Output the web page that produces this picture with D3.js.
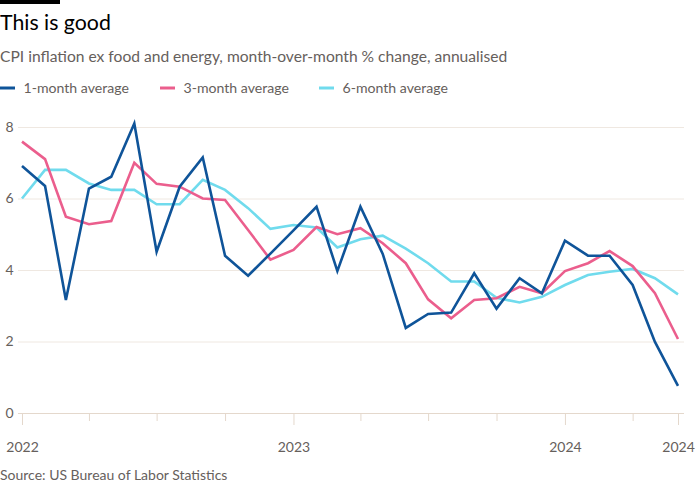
<!DOCTYPE html>
<html>
<head>
<meta charset="utf-8">
<script src="https://cdn.jsdelivr.net/npm/d3@7"></script>
<style>
  html, body { margin: 0; padding: 0; background: #ffffff; }
  svg { display: block; font-family: "Lato", "Noto Sans", sans-serif; }
</style>
</head>
<body>
<svg id="chart" width="700" height="500"></svg>
<script>
// ---- Data ----
const months = d3.range(30).map(i => new Date(2022, i, 1)); // Jan 2022 .. Jun 2024
const oneMonth = [6.91, 6.35, 3.16, 6.28, 6.61, 8.10, 4.51, 6.33, 7.15, 4.40, 3.84, 4.46, 5.11, 5.77, 3.97, 5.77, 4.45, 2.38, 2.77, 2.81, 3.91, 2.92, 3.77, 3.35, 4.82, 4.40, 4.40, 3.58, 1.99, 0.76];
const threeMonth = [7.59, 7.10, 5.49, 5.28, 5.37, 7.00, 6.41, 6.33, 6.00, 5.96, 5.12, 4.29, 4.56, 5.20, 5.00, 5.17, 4.75, 4.19, 3.18, 2.65, 3.16, 3.21, 3.53, 3.35, 3.97, 4.19, 4.53, 4.11, 3.35, 2.07];
const sixMonth = [6.00, 6.80, 6.80, 6.42, 6.24, 6.24, 5.84, 5.84, 6.52, 6.24, 5.73, 5.15, 5.26, 5.19, 4.63, 4.86, 4.96, 4.60, 4.19, 3.68, 3.68, 3.22, 3.09, 3.25, 3.58, 3.86, 3.95, 4.03, 3.77, 3.32];
const seriesNames = ["1-month average", "3-month average", "6-month average"];
const seriesColors = ["#0f5499", "#eb5e8d", "#70dbed"];
const yTicks = [0, 2, 4, 6, 8];
const xTickDates = [
  new Date(2022, 0, 1), new Date(2022, 3, 1), new Date(2022, 6, 1), new Date(2022, 9, 1),
  new Date(2023, 0, 1), new Date(2023, 3, 1), new Date(2023, 6, 1), new Date(2023, 9, 1),
  new Date(2024, 0, 1), new Date(2024, 3, 1), new Date(2024, 5, 1)
];
const labelledTicks = [new Date(2022, 0, 1), new Date(2023, 0, 1), new Date(2024, 0, 1), new Date(2024, 5, 1)];

const series = [oneMonth, threeMonth, sixMonth];

// ---- Layout ----
const svg = d3.select("#chart");
const x = d3.scaleTime().domain([months[0], months[months.length - 1]]).range([22, 678]);
const y = d3.scaleLinear().domain([0, 8]).range([413, 127]);
const gridLeft = 18, gridRight = 684;
const textGrey = "#66605c";

// top bar
svg.append("rect").attr("x", 0).attr("y", 0).attr("width", 60).attr("height", 4).attr("fill", "#000");

// title & subtitle
svg.append("text").attr("x", 0).attr("y", 30).attr("font-size", 21.3).attr("fill", "#000").text("This is good");
svg.append("text").attr("x", 0).attr("y", 62).attr("font-size", 15.6).attr("fill", textGrey)
  .text("CPI inflation ex food and energy, month-over-month % change, annualised");

// legend
const legendX = [0, 160, 319];
seriesNames.forEach((name, i) => {
  const g = svg.append("g").attr("transform", `translate(${legendX[i]},88)`);
  g.append("line").attr("x1", 0).attr("x2", 15).attr("y1", 0).attr("y2", 0)
    .attr("stroke", seriesColors[i]).attr("stroke-width", 3);
  g.append("text").attr("x", 23.5).attr("y", 5).attr("font-size", 14.1).attr("fill", textGrey).text(name);
});

// gridlines
const yAxis = d3.axisLeft(y).tickValues(yTicks).tickSize(-(gridRight - gridLeft)).tickFormat(d3.format("d"));
const gy = svg.append("g").attr("transform", `translate(${gridLeft},0)`).call(yAxis);
gy.select(".domain").remove();
gy.selectAll(".tick line").attr("stroke", d => d === 0 ? "#e4d8cc" : "#efe8e1").attr("stroke-width", 1);
gy.selectAll(".tick text").attr("x", -4.5).attr("font-size", 14).attr("fill", textGrey)
  .attr("font-family", "Lato, 'Noto Sans', sans-serif");

// x axis
const xAxis = d3.axisBottom(x).tickValues(xTickDates).tickSize(0)
  .tickFormat(d => labelledTicks.some(t => +t === +d) ? d3.timeFormat("%Y")(d) : "");
const gx = svg.append("g").attr("transform", `translate(0,${y(0)})`).call(xAxis);
gx.select(".domain").remove();
gx.selectAll(".tick line")
  .attr("y2", d => labelledTicks.some(t => +t === +d) ? 12 : 8)
  .attr("stroke", "#e4d8cc").attr("stroke-width", 1);
gx.selectAll(".tick text").attr("y", 29).attr("font-size", 14).attr("fill", textGrey)
  .attr("font-family", "Lato, 'Noto Sans', sans-serif");

// lines
const line = d3.line().x((d, i) => x(months[i])).y(d => y(d));
[2, 1, 0].forEach(i => {
  svg.append("path").datum(series[i]).attr("d", line)
    .attr("fill", "none").attr("stroke", seriesColors[i]).attr("stroke-width", 2.6)
    .attr("stroke-linejoin", "miter").attr("stroke-linecap", "butt");
});

// source
svg.append("text").attr("x", 0).attr("y", 480).attr("font-size", 14).attr("fill", textGrey)
  .text("Source: US Bureau of Labor Statistics");
</script>
</body>
</html>
